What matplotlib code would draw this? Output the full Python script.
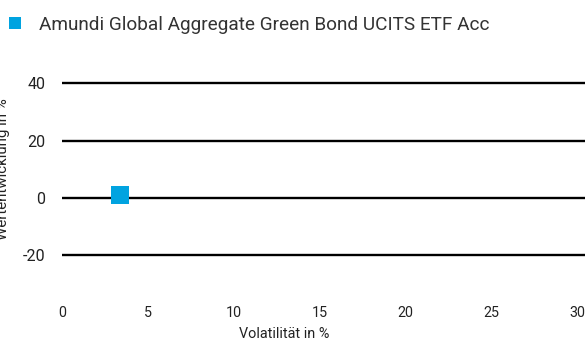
import matplotlib
matplotlib.use("Agg")
import matplotlib.pyplot as plt
from matplotlib.lines import Line2D

plt.rcParams['font.family'] = ['Roboto', 'DejaVu Sans']
plt.rcParams['axes.unicode_minus'] = False

series_name = "Amundi Global Aggregate Green Bond UCITS ETF Acc"
volatility = [3.4]
performance = [1.2]
x_ticks = [0, 5, 10, 15, 20, 25, 30]
y_ticks = [-20, 0, 20, 40]
color = '#00A3E0'

fig = plt.figure(figsize=(5.85, 3.42), dpi=100)
ax = fig.add_axes([62/585, 58/342, (585-62)/585, (284-69)/342])
ax.set_xlim(0, 30.45)
ax.set_ylim(-30, 45)

for yv in y_ticks:
    ax.axhline(yv, color='black', lw=1.7, zorder=1)

ax.scatter(volatility, performance, marker='s', s=180, color=color, zorder=3, linewidths=0)

ax.set_xticks(x_ticks)
ax.set_yticks(y_ticks)
ax.tick_params(axis='both', length=0, colors='#222222')
ax.tick_params(axis='x', pad=16, labelsize=10.3)
ax.tick_params(axis='y', pad=12, labelsize=11.5)
for s in ax.spines.values():
    s.set_visible(False)
ax.set_facecolor('none')

fig.text(284/585, 1 - 334/342, "Volatilität in %", ha='center', va='center', fontsize=10.4, color='#222222')
fig.text(3/585, 1 - 169/342, "Wertentwicklung in %", ha='center', va='center', rotation=90, fontsize=10.9, color='#222222')

handle = Line2D([], [], marker='s', linestyle='none', markersize=9, color=color, markeredgewidth=0)
fig.legend([handle], [series_name], loc='center left', bbox_to_anchor=(0.0, 1 - 25/342),
           frameon=False, fontsize=13.7, handlelength=0.8, handletextpad=0.85, borderaxespad=0,
           labelcolor='#333333')

fig.savefig("out.png", dpi=100)
